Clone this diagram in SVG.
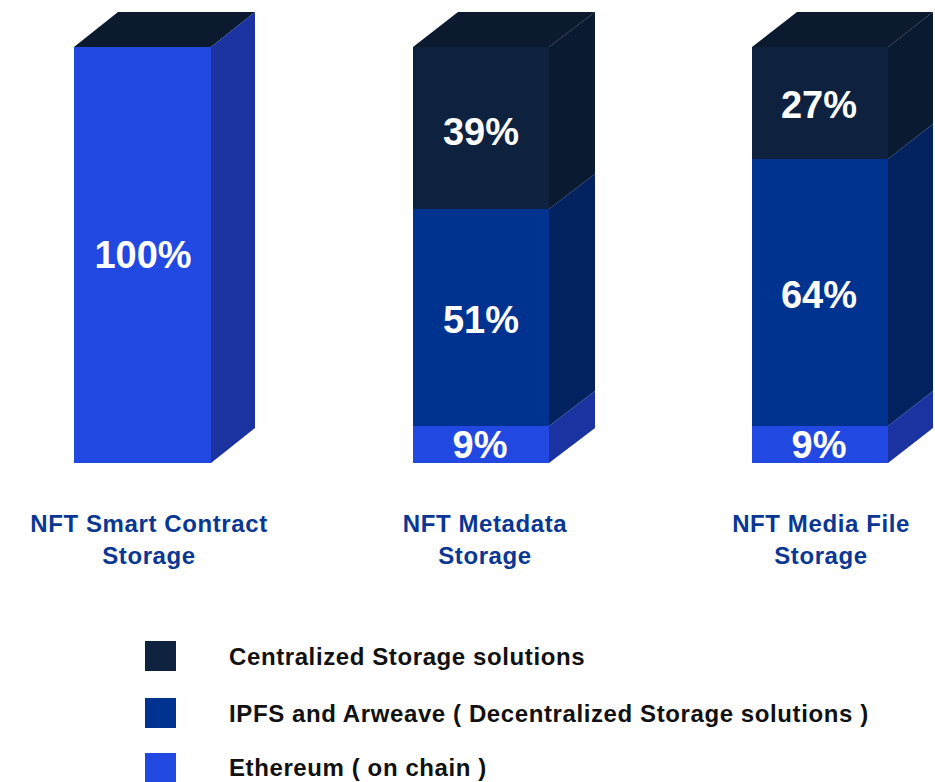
<svg xmlns="http://www.w3.org/2000/svg" width="935" height="782" viewBox="0 0 935 782">
<style>
.top{fill:#0b1a2e}
.ethF{fill:#2148e0}.ethS{fill:#1a33a0}
.cenF{fill:#0e2240}.cenS{fill:#0a1a30}
.ipfF{fill:#00328f}.ipfS{fill:#02225f}
.pct{font-family:"Liberation Sans",Arial,sans-serif;font-weight:bold;font-size:38px;fill:#ffffff;text-anchor:middle}
.cat{font-family:"Liberation Sans",Arial,sans-serif;font-weight:bold;font-size:24px;fill:#0a3793;text-anchor:middle;letter-spacing:0.6px}
.leg{font-family:"Liberation Sans",Arial,sans-serif;font-weight:bold;font-size:24px;fill:#111111;letter-spacing:0.6px}
</style>
<rect width="935" height="782" fill="#ffffff"/>
<g id="bar1">
<polygon class="top" points="74,47 118,12 255,12 211,47"/>
<rect class="ethF" x="74" y="47" width="137" height="416"/>
<polygon class="ethS" points="211,47 255,12 255,428 211,463"/>
<text class="pct" x="143" y="268">100%</text>
</g>
<g id="bar2">
<polygon class="top" points="413,47 458,12 595,12 549,47"/>
<rect class="cenF" x="413" y="47" width="136" height="162"/>
<polygon class="cenS" points="549,47 595,12 595,174 549,209"/>
<rect class="ipfF" x="413" y="209" width="136" height="217"/>
<polygon class="ipfS" points="549,209 595,174 595,391 549,426"/>
<rect class="ethF" x="413" y="426" width="136" height="37"/>
<polygon class="ethS" points="549,426 595,391 595,428 549,463"/>
<text class="pct" x="481" y="145">39%</text>
<text class="pct" x="481" y="333">51%</text>
<text class="pct" x="480" y="458">9%</text>
</g>
<g id="bar3">
<polygon class="top" points="752,47 797,12 933,12 888,47"/>
<rect class="cenF" x="752" y="47" width="136" height="112"/>
<polygon class="cenS" points="888,47 933,12 933,124 888,159"/>
<rect class="ipfF" x="752" y="159" width="136" height="267"/>
<polygon class="ipfS" points="888,159 933,124 933,391 888,426"/>
<rect class="ethF" x="752" y="426" width="136" height="37"/>
<polygon class="ethS" points="888,426 933,391 933,428 888,463"/>
<text class="pct" x="819" y="118">27%</text>
<text class="pct" x="819" y="308">64%</text>
<text class="pct" x="819" y="458">9%</text>
</g>
<g id="label1"><text class="cat" x="149" y="532">NFT Smart Contract</text><text class="cat" x="149" y="564">Storage</text></g>
<g id="label2"><text class="cat" x="485" y="532">NFT Metadata</text><text class="cat" x="485" y="564">Storage</text></g>
<g id="label3"><text class="cat" x="821" y="532">NFT Media File</text><text class="cat" x="821" y="564">Storage</text></g>
<g id="legend">
<rect class="cenF" x="145" y="641" width="31" height="30"/>
<text class="leg" x="229" y="665">Centralized Storage solutions</text>
<rect class="ipfF" x="145" y="698" width="31" height="30"/>
<text class="leg" x="229" y="722">IPFS and Arweave ( Decentralized Storage solutions )</text>
<rect class="ethF" x="145" y="753" width="31" height="29"/>
<text class="leg" x="229" y="776">Ethereum ( on chain )</text>
</g>
<g id="connectors"/>
</svg>
